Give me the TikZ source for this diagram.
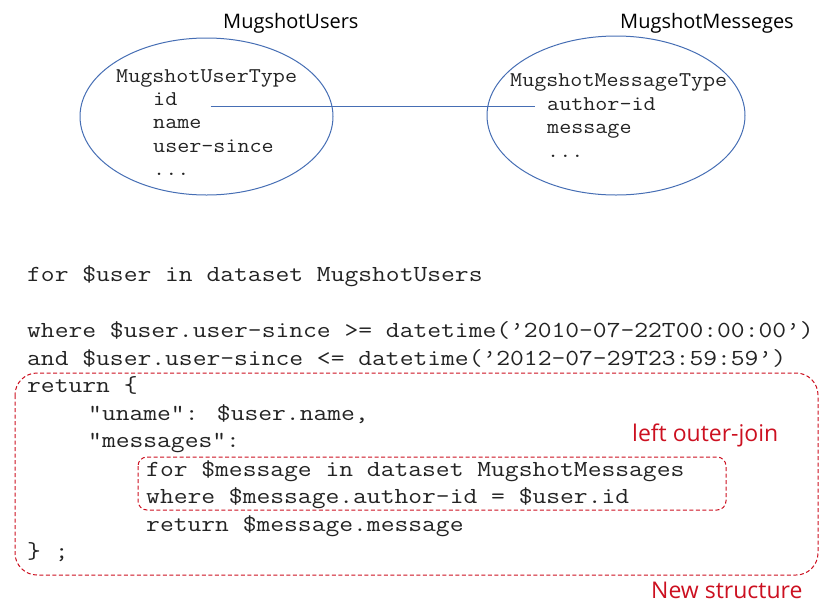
\documentclass[tikz,border=0pt]{standalone}
\usepackage{fontspec}
\usetikzlibrary{shapes.geometric}
\newfontfamily\codebig[FakeStretch=1.165]{Latin Modern Mono}
\newfontfamily\codesmall[FakeStretch=1.115]{Latin Modern Mono}
\newfontfamily\labelfont{Open Sans}
\definecolor{ellblue}{RGB}{70,110,180}
\definecolor{qred}{RGB}{204,16,32}
\definecolor{codeink}{RGB}{35,35,35}
\tikzset{
  codeline/.style={anchor=base west, inner sep=0pt, text=codeink, font=\codebig\fontsize{23}{27}\selectfont},
  fieldline/.style={anchor=base west, inner sep=0pt, text=codeink, font=\codesmall\fontsize{21}{24}\selectfont},
  titletext/.style={anchor=base west, inner sep=0pt, text=black, font=\labelfont\fontsize{20}{24}\selectfont},
  notetext/.style={anchor=base west, inner sep=0pt, text=qred, font=\labelfont\fontsize{23}{27}\selectfont},
  dataset/.style={ellipse, draw=ellblue, line width=1pt, inner sep=0pt},
  link/.style={draw=ellblue, line width=0.9pt},
  scopebox/.style={draw=qred, line width=1pt, dash pattern=on 4pt off 2.5pt},
}
\begin{document}
\begin{tikzpicture}[x=1pt,y=-1pt]
\useasboundingbox (0,0) rectangle (823,603);
% dataset titles
\node[titletext] (t1) at (223,28) {MugshotUsers};
\node[titletext] (t2) at (620,28) {MugshotMesseges};
% ellipses
\node[dataset, minimum width=253pt, minimum height=157pt] (users) at (206.5,116.5) {};
\node[dataset, minimum width=258pt, minimum height=159pt] (msgs) at (616,115.5) {};
% user fields
\node[fieldline] (utype) at (116,82) {MugshotUserType};
\node[fieldline] (uid) at (153,105) {id};
\node[fieldline] (uname) at (153,128) {name};
\node[fieldline] (usince) at (153,152) {user-since};
\node[fieldline] (udots) at (153,175) {...};
% message fields
\node[fieldline] (mtype) at (510,86) {MugshotMessageType};
\node[fieldline] (aid) at (547,110) {author-id};
\node[fieldline] (mmsg) at (547,133) {message};
\node[fieldline] (mdots) at (547,157) {...};
% link
\draw[link] ([xshift=33pt,yshift=-1pt]uid.base east) -- ([xshift=-12pt,yshift=4pt]aid.base west);
% query
\node[codeline] (q1) at (27,281) {for \$user in dataset MugshotUsers};
\node[codeline] (q2) at (27,337) {where \$user.user-since >= datetime(’2010-07-22T00:00:00’)};
\node[codeline] (q3) at (27,365) {and \$user.user-since <= datetime(’2012-07-29T23:59:59’)};
\node[codeline] (q4) at (27,392) {return \{};
\node[codeline] (q5) at (88,420) {"uname": \$user.name,};
\node[codeline] (q6) at (88,447) {"messages":};
\node[codeline] (q7) at (146,476) {for \$message in dataset MugshotMessages};
\node[codeline] (q8) at (146,503) {where \$message.author-id = \$user.id};
\node[codeline] (q9) at (146,531) {return \$message.message};
\node[codeline] (q10) at (27,558) {\} ;};
% boxes
\draw[scopebox, rounded corners=22pt] (15,373) rectangle (818,575);
\draw[scopebox, rounded corners=9pt] (138,457) rectangle (726,510);
% notes
\node[notetext] (n1) at (632,441) {left outer-join};
\node[notetext] (n2) at (651,598) {New structure};
\end{tikzpicture}
\end{document}
